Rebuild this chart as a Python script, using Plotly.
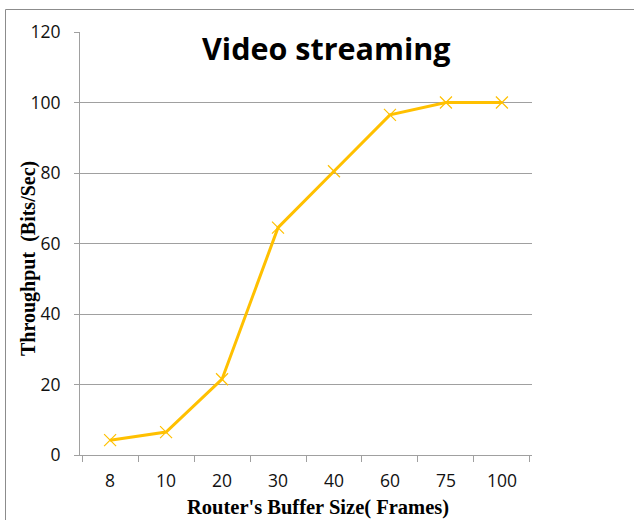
import plotly.graph_objects as go

# Data
buffer_sizes = ["8", "10", "20", "30", "40", "60", "75", "100"]
throughput = [4.2, 6.5, 21.5, 64.5, 80.5, 96.5, 100, 100]
y_ticks = [0, 20, 40, 60, 80, 100, 120]

W, H = 634, 520
L, R, T, B = 80, 532, 32, 455  # plot area in pixels


def px(x):
    return (x - L) / (R - L)


def py(y):
    return (B - y) / (B - T)


GOLD = "#FFC000"
GRID = "#a0a0a0"
TICKFONT = dict(family="Open Sans", size=17.5, color="#111")

fig = go.Figure()
fig.add_trace(go.Scatter(
    x=buffer_sizes, y=throughput, mode="lines+markers",
    line=dict(color=GOLD, width=3),
    marker=dict(symbol="x-thin", size=12, line=dict(color=GOLD, width=1.2), color=GOLD),
    showlegend=False,
))

fig.update_layout(
    width=W, height=H,
    margin=dict(l=L, r=W - R, t=T, b=H - B),
    paper_bgcolor="white", plot_bgcolor="white",
    font=dict(family="Open Sans", size=16, color="#111"),
    xaxis=dict(
        type="category", tickson="boundaries", ticks="outside", ticklen=6,
        tickcolor=GRID, showline=True, linecolor=GRID, linewidth=1,
        showgrid=False, tickfont=TICKFONT,
        ticklabelstandoff=10,
    ),
    yaxis=dict(
        range=[0, 120], tickvals=y_ticks, ticks="outside", ticklen=5,
        tickcolor=GRID, showline=True, linecolor=GRID, linewidth=1,
        showgrid=True, gridcolor=GRID, gridwidth=1, zeroline=False,
        tickfont=TICKFONT,
        ticklabelstandoff=10,
    ),
    shapes=[dict(
        type="rect", xref="paper", yref="paper",
        x0=px(5.5), x1=px(650), y0=py(540), y1=py(9.5),
        line=dict(color="#8c8c8c", width=1), fillcolor="rgba(0,0,0,0)", layer="below",
    )],
    annotations=[
        dict(text="<b>Video streaming</b>", xref="paper", yref="paper",
             x=px(326), y=py(48), xanchor="center", yanchor="middle",
             showarrow=False, font=dict(family="Open Sans", size=30.5, color="black")),
        dict(text="<b>Router's Buffer Size( Frames)</b>", xref="paper", yref="paper",
             x=px(318), y=py(507), xanchor="center", yanchor="middle",
             showarrow=False, font=dict(family="Liberation Serif", size=20.5, color="black")),
        dict(text="<b>Throughput  (Bits/Sec)</b>", xref="paper", yref="paper",
             x=px(28), y=py(259), xanchor="center", yanchor="middle", textangle=-90,
             showarrow=False, font=dict(family="Liberation Serif", size=20, color="black")),
    ],
)

fig.write_html("out.html")
